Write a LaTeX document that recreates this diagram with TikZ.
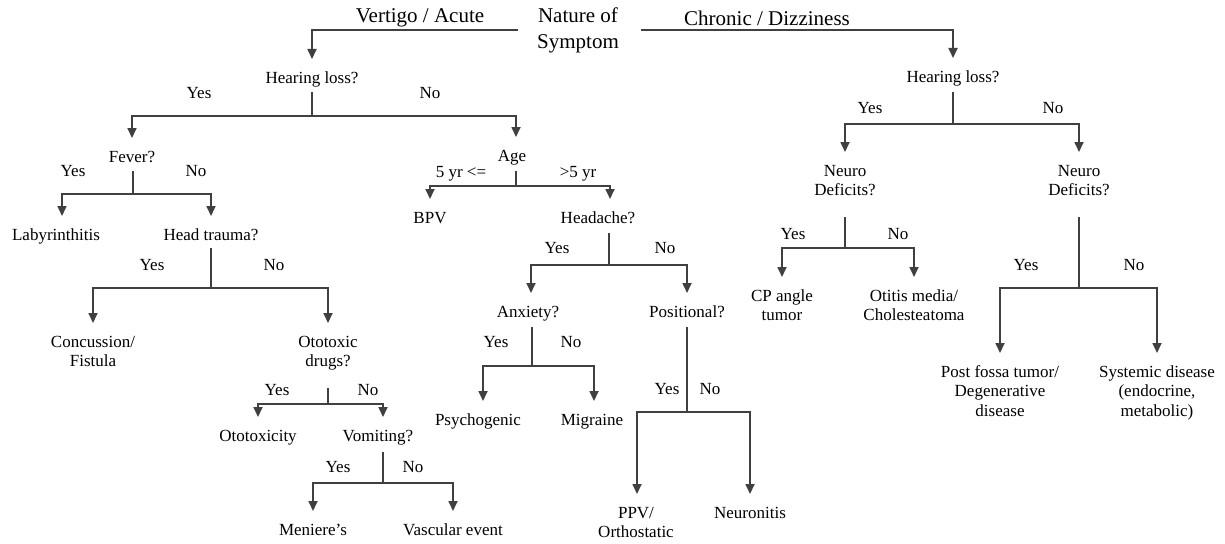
\documentclass[tikz,border=0pt]{standalone}
\usepackage{fontspec}
\setmainfont{Liberation Serif}
\usetikzlibrary{arrows.meta}
\newcommand\mytop{\rule{0pt}{12.75pt}}
\newcommand\mybot{\rule[-4.25pt]{0pt}{4.25pt}}
\begin{document}
\begin{tikzpicture}[x=1pt,y=-1pt,
  ln/.style={draw=black!75, line width=1.7pt},
  arr/.style={ln, -{Triangle[width=9pt,length=10pt]}, shorten >=10.25pt},
  stem/.style={ln, shorten <=#1},
  txt/.style={font=\fontsize{17}{19.5}\selectfont, text=black, inner sep=1pt, anchor=north, yshift=9.75pt, text height=12.75pt, text depth=4.25pt},
  mtxt/.style={font=\fontsize{17}{19.5}\selectfont, text=black, inner sep=1pt, anchor=north, yshift=9.75pt, align=center},
  big/.style={font=\fontsize{21}{26}\selectfont, text=black, inner sep=1pt, align=center}]
\fill[white] (0,0) rectangle (1225,543);
\useasboundingbox (0,0) rectangle (1225,543);

% top
\node[big] (vert) at (420,18) {Vertigo / Acute};
\node[big] (nature) at (578,30) {Nature of\\Symptom};
\node[big] (chron) at (767,18) {Chronic / Dizziness};

% left tree
\node[txt] (hlA) at (312,79) {Hearing loss?};
\node[txt] (hlAy) at (199,94) {Yes};
\node[txt] (hlAn) at (430,94) {No};
\node[txt] (fever) at (132,158) {Fever?};
\node[txt] (feverY) at (73,172) {Yes};
\node[txt] (feverN) at (196,172) {No};
\node[txt] (lab) at (56,236) {Labyrinthitis};
\node[txt] (head) at (211,236) {Head trauma?};
\node[txt] (headY) at (152,266) {Yes};
\node[txt] (headN) at (274,266) {No};
\node[mtxt] (conc) at (93,343) {\mytop Concussion/\\Fistula\mybot};
\node[mtxt] (drug) at (328,343) {\mytop Ototoxic\\drugs?\mybot};
\node[txt] (drugY) at (277,391) {Yes};
\node[txt] (drugN) at (368,391) {No};
\node[txt] (ototox) at (258,437) {Ototoxicity};
\node[txt] (vom) at (378,437) {Vomiting?};
\node[txt] (vomY) at (338,468) {Yes};
\node[txt] (vomN) at (413,468) {No};
\node[txt] (men) at (313,531) {Meniere's};
\node[txt] (vasc) at (453,531) {Vascular event};
\node[txt] (age) at (512,157) {Age};
\node[txt] (ageL) at (461,173) {5 yr <=};
\node[txt] (ageR) at (578,173) {>5 yr};
\node[txt] (bpv) at (430,219) {BPV};
\node[txt] (hdache) at (598,219) {Headache?};
\node[txt] (hdY) at (557,249) {Yes};
\node[txt] (hdN) at (665,249) {No};
\node[txt] (anx) at (528,313) {Anxiety?};
\node[txt] (anxY) at (496,343) {Yes};
\node[txt] (anxN) at (571,343) {No};
\node[txt] (psy) at (478,421) {Psychogenic};
\node[txt] (mig) at (592,421) {Migraine};
\node[txt] (pos) at (687,313) {Positional?};
\node[txt] (posY) at (667,390) {Yes};
\node[txt] (posN) at (710,390) {No};
\node[mtxt] (ppv) at (636,514) {\mytop PPV/\\Orthostatic\mybot};
\node[txt] (neur) at (750,514) {Neuronitis};

% right tree
\node[txt] (hlB) at (953,78) {Hearing loss?};
\node[txt] (hlBy) at (870,109) {Yes};
\node[txt] (hlBn) at (1053,109) {No};
\node[mtxt] (ndA) at (845,172) {\mytop Neuro\\Deficits?\mybot};
\node[mtxt] (ndB) at (1079,172) {\mytop Neuro\\Deficits?\mybot};
\node[txt] (ndAy) at (793,235) {Yes};
\node[txt] (ndAn) at (898,235) {No};
\node[mtxt] (cp) at (782,297) {\mytop CP angle\\tumor\mybot};
\node[mtxt] (otitis) at (914,297) {\mytop Otitis media/\\Cholesteatoma\mybot};
\node[txt] (ndBy) at (1026,266) {Yes};
\node[txt] (ndBn) at (1134,266) {No};
\node[mtxt] (post) at (1000,373) {\mytop Post fossa tumor/\\Degenerative\\disease\mybot};
\node[mtxt] (sys) at (1157,373) {\mytop Systemic disease\\(endocrine,\\metabolic)\mybot};

% junctions
\coordinate (jHLA) at (312,116);
\coordinate (jFev) at (133,194);
\coordinate (jHead) at (211,288);
\coordinate (jDrug) at (328,404);
\coordinate (jVom) at (383,483);
\coordinate (jAge) at (516,186);
\coordinate (jHd) at (609,265);
\coordinate (jAnx) at (532,366);
\coordinate (jPos) at (687,412);
\coordinate (jHLB) at (953,124);
\coordinate (jNdA) at (845,248);
\coordinate (jNdB) at (1079,288);

% connectors
\draw[arr, shorten <=18pt] (nature.west) -| (hlA.north);
\draw[arr, shorten <=21pt] (nature.east) -| (hlB.north);

\draw[stem=3.75pt] (jHLA |- hlA.south) -- (jHLA);
\draw[arr] (jHLA) -| (fever.north);
\draw[arr] (jHLA) -| ([xshift=4pt]age.north);

\draw[stem=3.75pt] (jFev |- fever.south) -- (jFev);
\draw[arr] (jFev) -| ([xshift=6pt]lab.north);
\draw[arr] (jFev) -| (head.north);

\draw[stem=2.75pt] (jHead |- head.south) -- (jHead);
\draw[arr] (jHead) -| (conc.north);
\draw[arr] (jHead) -| (drug.north);

\draw[stem=16.25pt] (jDrug |- drug.south) -- (jDrug);
\draw[arr] (jDrug) -| (ototox.north);
\draw[arr] (jDrug) -| ([xshift=5pt]vom.north);

\draw[stem=5.75pt] (jVom |- vom.south) -- (jVom);
\draw[arr] (jVom) -| (men.north);
\draw[arr] (jVom) -| (vasc.north);

\draw[stem=4.75pt] (jAge |- age.south) -- (jAge);
\draw[arr] (jAge) -| (bpv.north);
\draw[arr] (jAge) -| ([xshift=12pt]hdache.north);

\draw[stem=4.75pt] (jHd |- hdache.south) -- (jHd);
\draw[arr] (jHd) -| ([xshift=3pt]anx.north);
\draw[arr] (jHd) -| (pos.north);

\draw[stem=4.75pt] (jAnx |- anx.south) -- (jAnx);
\draw[arr] (jAnx) -| ([xshift=5pt]psy.north);
\draw[arr] (jAnx) -| ([xshift=2pt]mig.north);

\draw[stem=4.75pt] (jPos |- pos.south) -- (jPos);
\draw[arr] (jPos) -| ([xshift=1pt]ppv.north);
\draw[arr] (jPos) -| (neur.north);

\draw[stem=4.75pt] (jHLB |- hlB.south) -- (jHLB);
\draw[arr] (jHLB) -| (ndA.north);
\draw[arr] (jHLB) -| (ndB.north);

\draw[stem=16.25pt] (jNdA |- ndA.south) -- (jNdA);
\draw[arr] (jNdA) -| (cp.north);
\draw[arr] (jNdA) -| (otitis.north);

\draw[stem=16.25pt] (jNdB |- ndB.south) -- (jNdB);
\draw[arr] (jNdB) -| (post.north);
\draw[arr] (jNdB) -| (sys.north);
\end{tikzpicture}
\end{document}
